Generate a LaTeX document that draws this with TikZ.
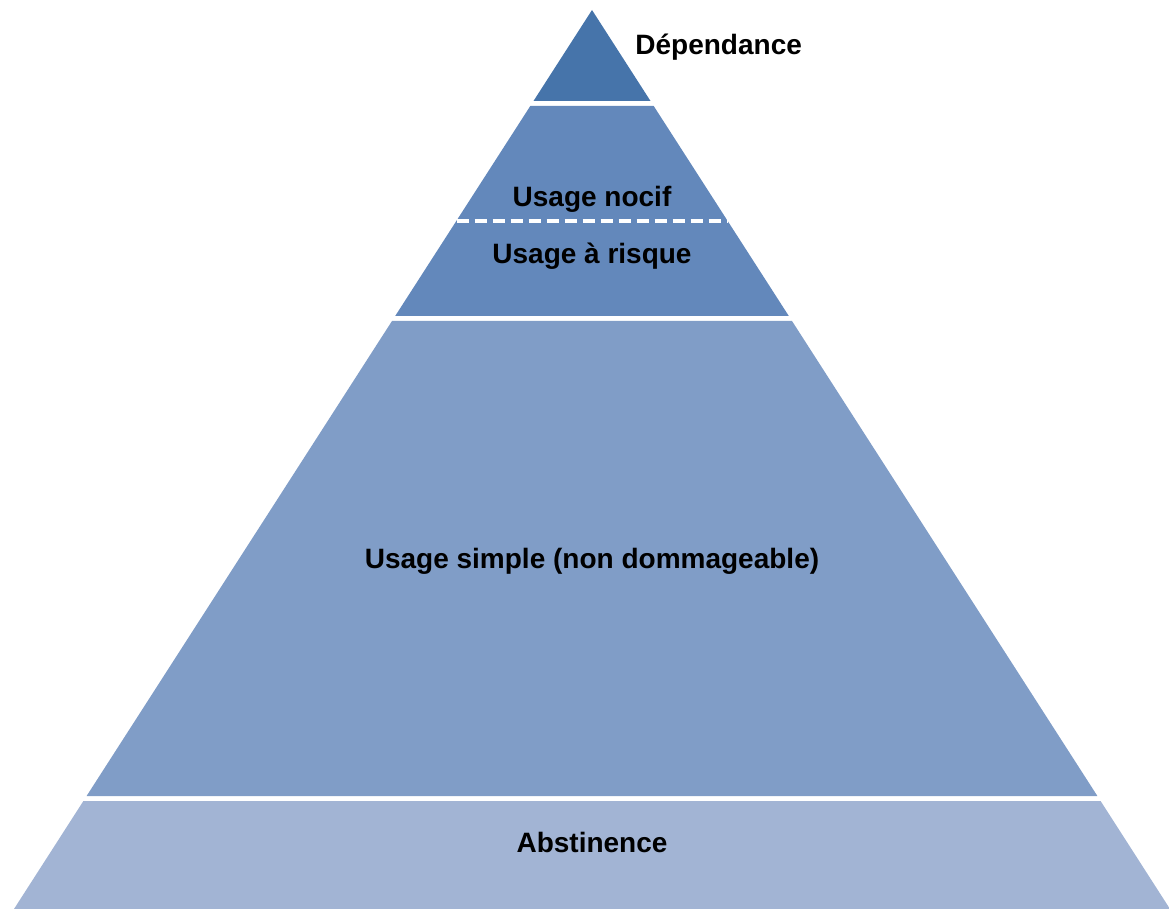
\documentclass[tikz,border=0pt]{standalone}
\usepackage{fontspec}
\setmainfont{Liberation Sans}

\definecolor{levelA}{RGB}{70,116,170}
\definecolor{levelB}{RGB}{99,136,187}
\definecolor{levelC}{RGB}{128,157,199}
\definecolor{levelD}{RGB}{162,180,212}

\tikzset{
    label text/.style={font=\fontsize{14}{16}\selectfont\bfseries, text=black, inner sep=0pt},
    split line/.style={draw=white, line width=1.6pt, dash pattern=on 6pt off 3pt}
}

\begin{document}
\begin{tikzpicture}[x=0.5pt, y=-0.5pt]
    \useasboundingbox (0,0) rectangle (1169,909);

    % Top
    \coordinate (apex) at (592,10);
    \coordinate (a1) at (533.5,101);
    \coordinate (a2) at (650.5,101);

    % Row 2
    \coordinate (b1) at (530.3,106);
    \coordinate (b2) at (653.7,106);
    \coordinate (b3) at (788.8,316);
    \coordinate (b4) at (395.2,316);
    \coordinate (m1) at (456.5,221);
    \coordinate (m2) at (727.5,221);

    % Row 3
    \coordinate (c1) at (392,321);
    \coordinate (c2) at (792,321);
    \coordinate (c3) at (1097.4,796);
    \coordinate (c4) at (86.6,796);

    % Row 4
    \coordinate (d1) at (83.4,801);
    \coordinate (d2) at (1100.6,801);
    \coordinate (d3) at (1170,909);
    \coordinate (d4) at (14,909);

    % Layers
    \fill[levelA] (apex) -- (a2) -- (a1) -- cycle;
    \fill[levelB] (b1) -- (b2) -- (b3) -- (b4) -- cycle;
    \fill[levelC] (c1) -- (c2) -- (c3) -- (c4) -- cycle;
    \fill[levelD] (d1) -- (d2) -- (d3) -- (d4) -- cycle;
    \draw[split line] (m1) -- (m2);

    % Labels
    \node[label text, anchor=base west] (dep) at (635,55) {Dépendance};
    \node[label text, anchor=base] (nocif) at (592,207) {Usage nocif};
    \node[label text, anchor=base] (risque) at (592,264) {Usage à risque};
    \node[label text, anchor=base] (simple) at (592,568) {Usage simple (non dommageable)};
    \node[label text, anchor=base] (abst) at (592,852) {Abstinence};
\end{tikzpicture}
\end{document}
